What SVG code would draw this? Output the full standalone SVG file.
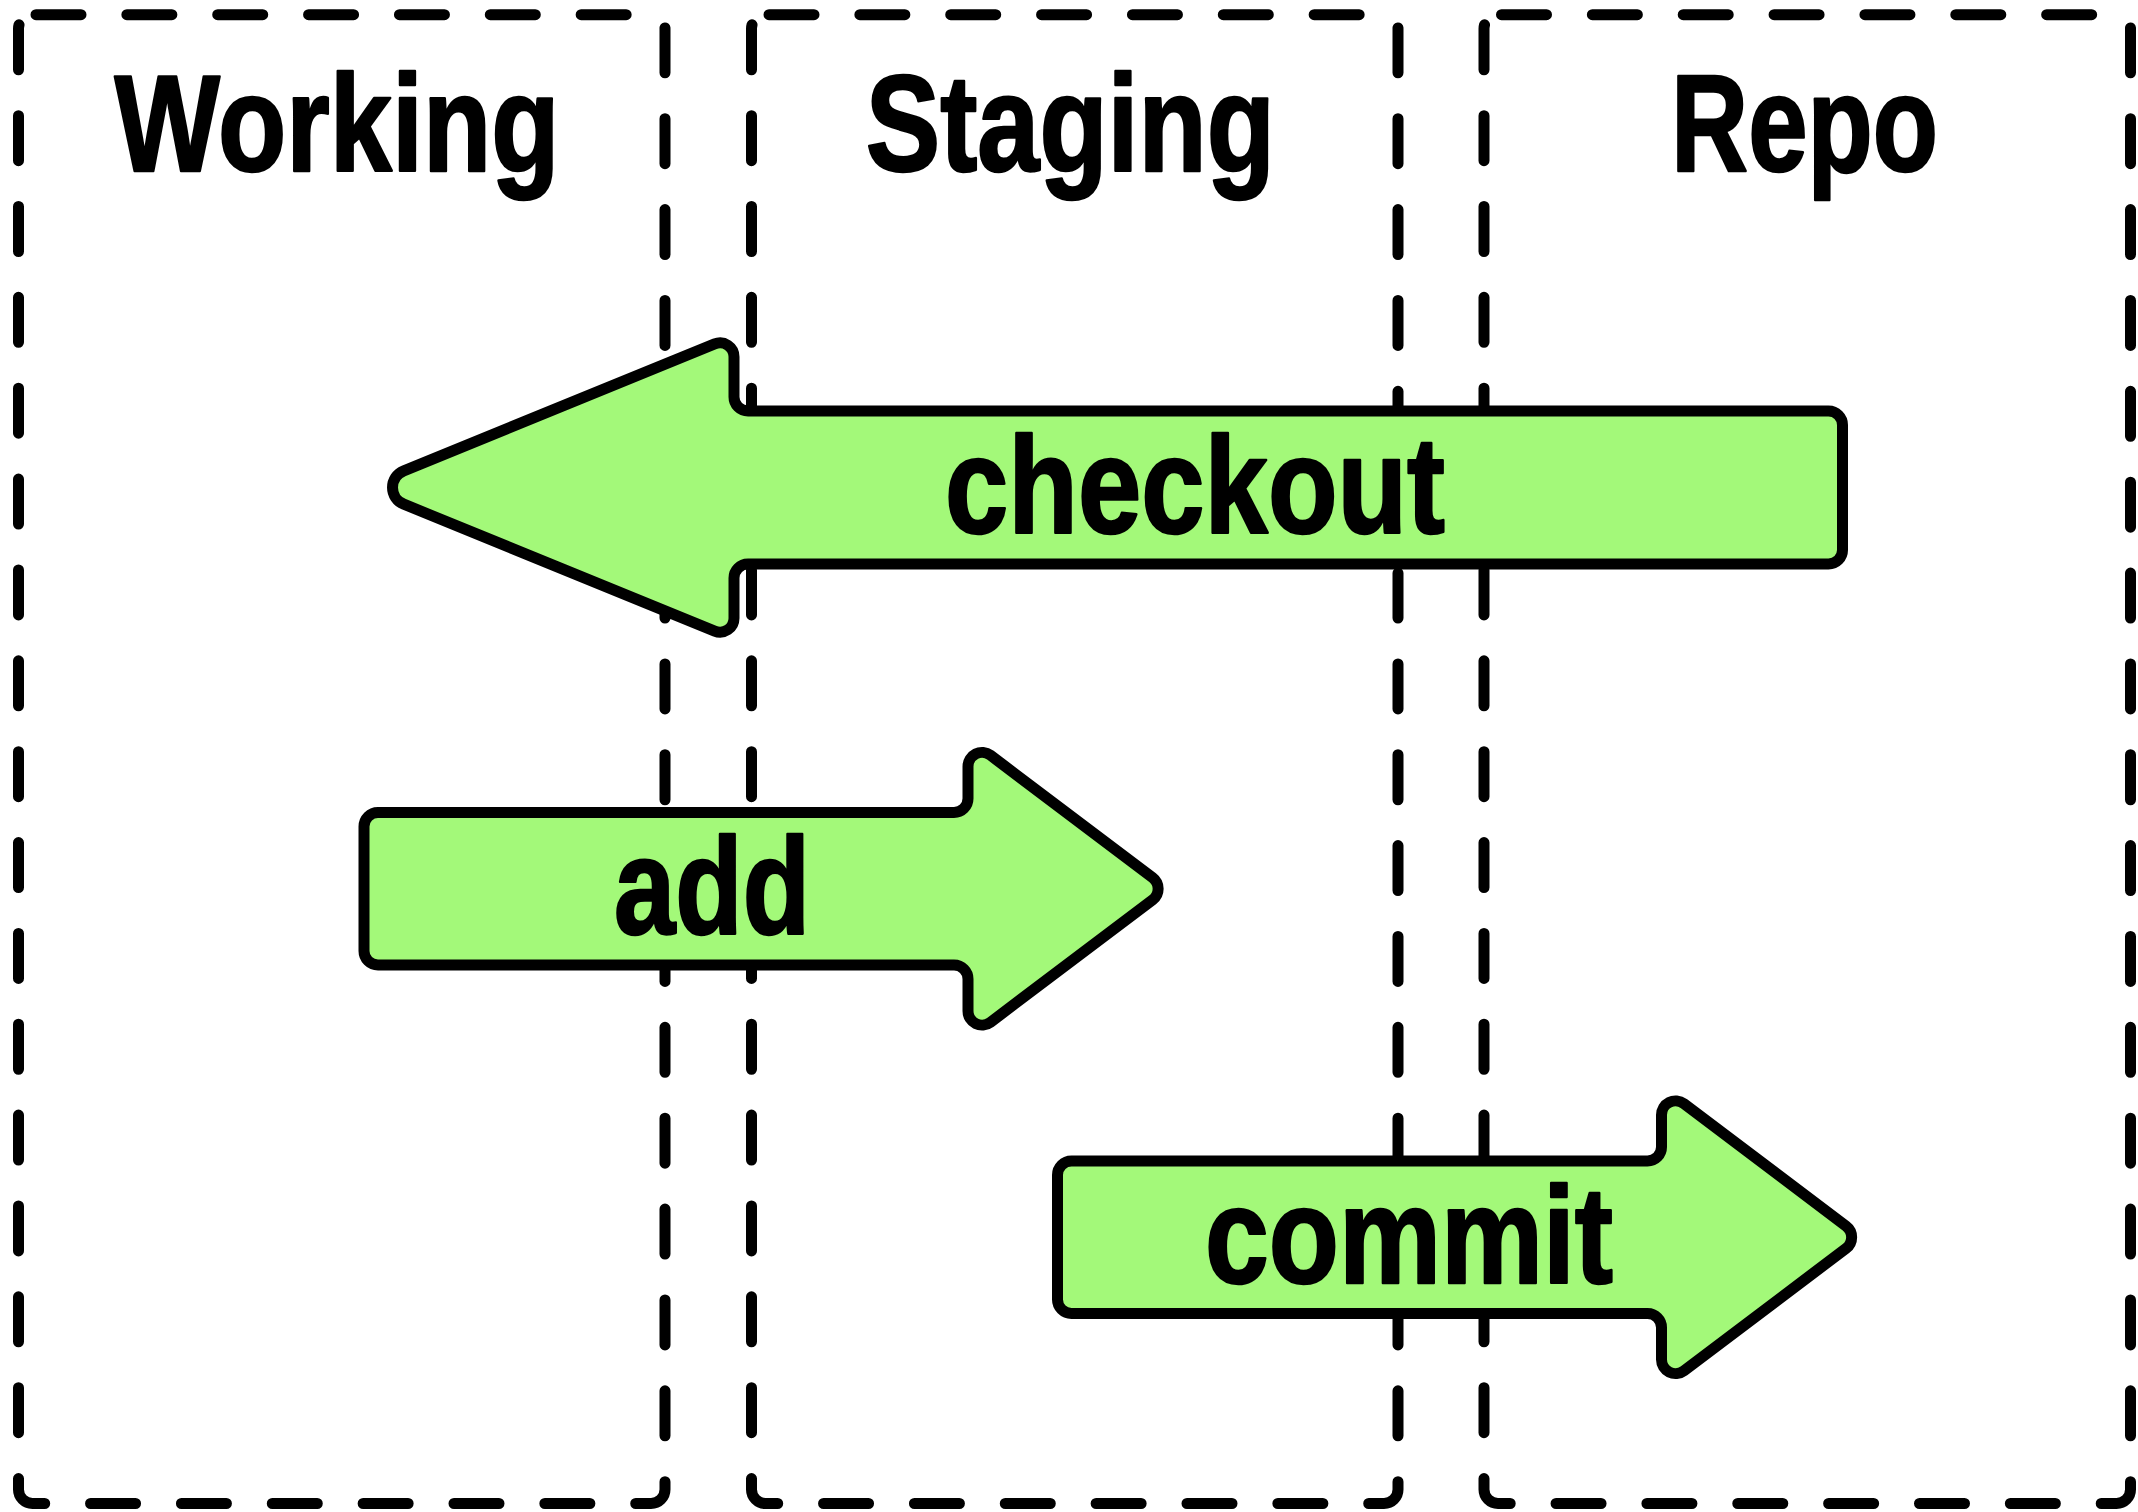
<svg xmlns="http://www.w3.org/2000/svg" width="2138" height="1512" viewBox="0 0 2138 1512">
<style>
.lane{fill:none;stroke:#000;stroke-width:11;stroke-linecap:round;stroke-dasharray:45 45.86;stroke-dashoffset:87.36}
.arrow{fill:#a3f979;stroke:#000;stroke-width:11;stroke-linejoin:round}
.title,.label{font-family:"Liberation Sans",Arial,sans-serif;font-weight:bold;font-size:137px;fill:#000;stroke:#000;stroke-width:2.5;stroke-linejoin:round}
</style>
<rect width="2138" height="1512" fill="#fff"/>
<g id="lane-working">
<path class="lane" d="M32.5 14.7H651A14 14 0 0 1 665 28.7V1489.5A14 14 0 0 1 651 1503.5H32.5A14 14 0 0 1 18.5 1489.5V28.7A14 14 0 0 1 32.5 14.7Z"/>
<text class="title" x="114.5" y="171" textLength="445" lengthAdjust="spacingAndGlyphs">Working</text>
</g>
<g id="lane-staging">
<path class="lane" d="M765.5 14.7H1384A14 14 0 0 1 1398 28.7V1489.5A14 14 0 0 1 1384 1503.5H765.5A14 14 0 0 1 751.5 1489.5V28.7A14 14 0 0 1 765.5 14.7Z"/>
<text class="title" x="865.8" y="171" textLength="409" lengthAdjust="spacingAndGlyphs">Staging</text>
</g>
<g id="lane-repo">
<path class="lane" d="M1498 14.7H2116.5A14 14 0 0 1 2130.5 28.7V1489.5A14 14 0 0 1 2116.5 1503.5H1498A14 14 0 0 1 1484 1489.5V28.7A14 14 0 0 1 1498 14.7Z"/>
<text class="title" x="1671" y="171" textLength="267" lengthAdjust="spacingAndGlyphs">Repo</text>
</g>
<g id="connectors"></g>
<g id="checkout">
<path class="arrow" d="M403.8 470.8L714.7 343.9A14 14 0 0 1 734 356.8V397A14 14 0 0 0 748 411H1828.5A14 14 0 0 1 1842.5 425V550A14 14 0 0 1 1828.5 564H748A14 14 0 0 0 734 578V618.2A14 14 0 0 1 714.7 631.1L403.8 504.2A18 18 0 0 1 403.8 470.8Z"/>
<text class="label" x="945" y="533.3" textLength="500" lengthAdjust="spacingAndGlyphs">checkout</text>
</g>
<g id="add">
<path class="arrow" d="M378 812.5H954A14 14 0 0 0 968 798.5V766.4A14 14 0 0 1 990.4 755.2L1152.6 877.6A14 14 0 0 1 1152.6 899.9L990.4 1022.3A14 14 0 0 1 968 1011.1V979A14 14 0 0 0 954 965H378A14 14 0 0 1 364 951V826.5A14 14 0 0 1 378 812.5Z"/>
<text class="label" x="614" y="934.3" textLength="196" lengthAdjust="spacingAndGlyphs">add</text>
</g>
<g id="commit">
<path class="arrow" transform="translate(693.5 348.5)" d="M378 812.5H954A14 14 0 0 0 968 798.5V766.4A14 14 0 0 1 990.4 755.2L1152.6 877.6A14 14 0 0 1 1152.6 899.9L990.4 1022.3A14 14 0 0 1 968 1011.1V979A14 14 0 0 0 954 965H378A14 14 0 0 1 364 951V826.5A14 14 0 0 1 378 812.5Z"/>
<text class="label" x="1205" y="1282.7" textLength="408" lengthAdjust="spacingAndGlyphs">commit</text>
</g>
</svg>
